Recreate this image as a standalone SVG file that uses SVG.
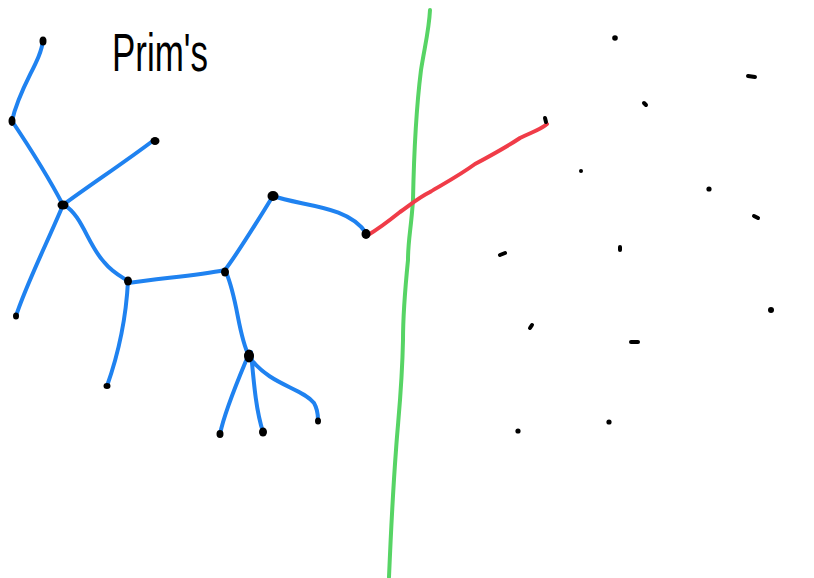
<svg xmlns="http://www.w3.org/2000/svg" width="814" height="578" viewBox="0 0 814 578">
<style>
.e{fill:none;stroke:#1f82f0;stroke-width:4;stroke-linecap:round;stroke-linejoin:round}
.r{fill:none;stroke:#f03c48;stroke-width:4;stroke-linecap:round}
.g{fill:none;stroke:#57d465;stroke-width:4;stroke-linecap:round}
.n{fill:#000}
.d{stroke:#000;stroke-width:4;stroke-linecap:round;fill:none}
.t{font-family:"Liberation Sans",Arial,sans-serif;font-size:54px;fill:#000}
</style>
<rect width="814" height="578" fill="#fff"/>
<text class="t" x="112" y="71" textLength="96" lengthAdjust="spacingAndGlyphs">Prim's</text>
<g id="cut">
<path class="g" d="M430,10 C429,30 425,45 421,70 C416,110 414,150 413,200 C411,230 408,240 408,260 C405,290 403,310 403,340 C402,390 398,420 396,450 C393,490 391,530 389,577"/>
</g>
<g id="connectors">
<path class="e" d="M43,40 C41,62 20,85 12,121"/>
<path class="e" d="M12,121 C30,148 50,180 63,205"/>
<path class="e" d="M63,205 C90,185 125,162 154,140"/>
<path class="e" d="M63,205 C47,243 26,285 16,316"/>
<path class="e" d="M64,205 C82,215 88,245 104,262 C112,272 120,276 128,281"/>
<path class="e" d="M128,281 C126,320 118,355 107,386"/>
<path class="e" d="M128,283 C160,278 195,276 225,270"/>
<path class="e" d="M225,270 C240,250 258,220 273,196"/>
<path class="e" d="M273,196 C300,206 348,205 366,233"/>
<path class="e" d="M226,272 C238,300 238,335 249,356"/>
<path class="e" d="M248,356 C238,380 225,410 220,434"/>
<path class="e" d="M251,352 C254,385 256,410 263,432"/>
<path class="e" d="M250,358 C270,385 302,388 314,403 C318,410 318,415 318,420"/>
<path class="r" d="M368,235 C380,228 390,220 400,212 C410,205 418,198 430,192 C445,183 460,175 475,164 C490,156 505,148 520,138 C532,132 540,130 547,124"/>
</g>
<g id="tree-nodes">
<g id="n1"><ellipse class="n" cx="43" cy="41" rx="3.5" ry="4.5"/></g>
<g id="n2"><ellipse class="n" cx="12" cy="121" rx="3.5" ry="5"/></g>
<g id="n3"><ellipse class="n" cx="155" cy="141" rx="4.5" ry="4"/></g>
<g id="n4"><ellipse class="n" cx="63" cy="205" rx="5.5" ry="4.5"/></g>
<g id="n5"><ellipse class="n" cx="16" cy="316" rx="3" ry="3.5"/></g>
<g id="n6"><ellipse class="n" cx="128" cy="281" rx="4" ry="4.5"/></g>
<g id="n7"><ellipse class="n" cx="107" cy="386" rx="3.5" ry="3"/></g>
<g id="n8"><ellipse class="n" cx="225" cy="272" rx="4" ry="4.5"/></g>
<g id="n9"><ellipse class="n" cx="273" cy="196" rx="5.5" ry="5"/></g>
<g id="n10"><ellipse class="n" cx="366" cy="234" rx="4.5" ry="5"/></g>
<g id="n11"><ellipse class="n" cx="249" cy="356" rx="5" ry="6.5"/></g>
<g id="n12"><ellipse class="n" cx="220" cy="434" rx="3.5" ry="4"/></g>
<g id="n13"><ellipse class="n" cx="263" cy="432" rx="4" ry="4.5"/></g>
<g id="n14"><ellipse class="n" cx="318" cy="421" rx="3" ry="3.5"/></g>
</g>
<g id="other-nodes">
<g id="p1"><circle class="n" cx="615" cy="38" r="2.8"/></g>
<g id="p2"><path class="d" d="M748,76 L755,77"/></g>
<g id="p3"><path class="d" d="M644,103 L646,105"/></g>
<g id="p4"><path class="d" d="M545,118 L546,122"/></g>
<g id="p5"><circle class="n" cx="581" cy="171" r="2"/></g>
<g id="p6"><circle class="n" cx="709" cy="189" r="2.6"/></g>
<g id="p7"><path class="d" d="M754,216 L758,218"/></g>
<g id="p8"><path class="d" d="M500,255 L505,253"/></g>
<g id="p9"><path class="d" d="M620,247 L620,250"/></g>
<g id="p10"><circle class="n" cx="771" cy="310" r="3"/></g>
<g id="p11"><path class="d" d="M530,328 L532,325"/></g>
<g id="p12"><path class="d" d="M631,342 L638,342"/></g>
<g id="p13"><circle class="n" cx="518" cy="431" r="2.6"/></g>
<g id="p14"><circle class="n" cx="609" cy="422" r="2.6"/></g>
</g>
</svg>
